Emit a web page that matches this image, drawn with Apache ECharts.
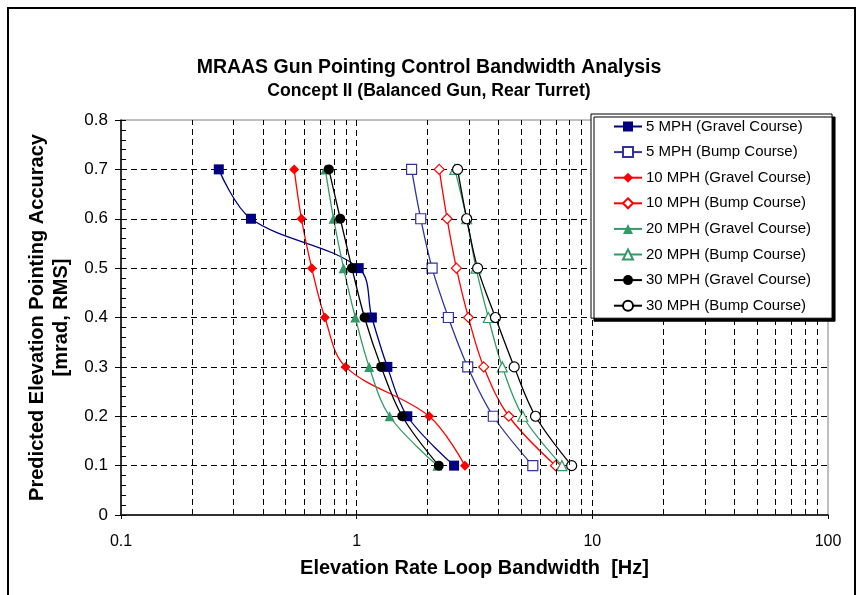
<!DOCTYPE html>
<html>
<head>
<meta charset="utf-8">
<script src="https://cdn.jsdelivr.net/npm/echarts@6/dist/echarts.min.js"></script>
<style>
  html, body { margin: 0; padding: 0; background: #fff; }
  #chart { width: 858px; height: 595px; }
</style>
</head>
<body>
<div id="chart"></div>
<script>
// Pointing accuracy levels (mrad RMS) shared by every curve
const accuracy = [0.7, 0.6, 0.5, 0.4, 0.3, 0.2, 0.1];

// Required elevation rate loop bandwidth (Hz) at each accuracy level
const bw5Gravel  = [0.26, 0.356, 1.02, 1.16, 1.35, 1.64, 2.59];
const bw5Bump    = [1.71, 1.87, 2.09, 2.45, 2.96, 3.80, 5.59];
const bw10Gravel = [0.543, 0.583, 0.645, 0.733, 0.898, 2.03, 2.88];
const bw10Bump   = [2.24, 2.42, 2.65, 2.98, 3.46, 4.42, 6.98];
const bw20Gravel = [0.736, 0.798, 0.88, 0.987, 1.13, 1.38, 2.20];
const bw20Bump   = [2.61, 2.93, 3.21, 3.62, 4.15, 5.07, 7.43];
const bw30Gravel = [0.762, 0.852, 0.955, 1.08, 1.27, 1.56, 2.23];
const bw30Bump   = [2.68, 2.93, 3.26, 3.88, 4.66, 5.74, 8.17];

const seriesNames = [
  '5 MPH (Gravel Course)', '5 MPH (Bump Course)',
  '10 MPH (Gravel Course)', '10 MPH (Bump Course)',
  '20 MPH (Gravel Course)', '20 MPH (Bump Course)',
  '30 MPH (Gravel Course)', '30 MPH (Bump Course)'
];

// Log-axis minor grid positions (2..9 within each decade)
const minorGrid = [0.2, 0.3, 0.4, 0.5, 0.6, 0.7, 0.8, 0.9,
                   2, 3, 4, 5, 6, 7, 8, 9,
                   20, 30, 40, 50, 60, 70, 80, 90];

const FONT = 'Liberation Sans, Arial, sans-serif';

function pairs(xs) { return xs.map((x, i) => [x, accuracy[i]]); }

function curve(name, xs, color, symbol, size, filled) {
  return {
    name: name,
    type: 'line',
    data: pairs(xs),
    smooth: 0.35,
    symbol: symbol,
    symbolSize: size,
    lineStyle: { color: color, width: 1.3 },
    itemStyle: filled
      ? { color: color, borderColor: color, borderWidth: 0 }
      : { color: '#ffffff', borderColor: color, borderWidth: 1.2 },
    emphasis: { disabled: true },
    z: 3
  };
}

const series = [
  curve(seriesNames[0], bw5Gravel, '#000080', 'rect', 10, true),
  curve(seriesNames[1], bw5Bump, '#333399', 'rect', 10, false),
  curve(seriesNames[2], bw10Gravel, '#ff0000', 'diamond', 10, true),
  curve(seriesNames[3], bw10Bump, '#ff0000', 'diamond', 10, false),
  curve(seriesNames[4], bw20Gravel, '#339966', 'triangle', 10, true),
  curve(seriesNames[5], bw20Bump, '#339966', 'triangle', 10, false),
  curve(seriesNames[6], bw30Gravel, '#000000', 'circle', 10, true),
  curve(seriesNames[7], bw30Bump, '#000000', 'circle', 10, false)
];

// Minor vertical grid drawn as dashed mark lines on the log axis
series.push({
  name: 'minor-grid',
  type: 'line',
  data: [],
  silent: true,
  z: 1,
  markLine: {
    silent: true,
    symbol: 'none',
    label: { show: false },
    animation: false,
    lineStyle: { color: '#000', width: 1, type: [6, 4] },
    data: minorGrid.map(v => ({ xAxis: v }))
  }
});

const dashed = { color: '#000', width: 1, type: [6, 4] };

const chart = echarts.init(document.getElementById('chart'), null, { renderer: 'canvas' });
chart.setOption({
  animation: false,
  backgroundColor: '#ffffff',
  textStyle: { fontFamily: FONT },
  title: {
    text: 'MRAAS Gun Pointing Control Bandwidth Analysis',
    subtext: 'Concept II (Balanced Gun, Rear Turret)',
    left: 'center',
    top: 58,
    padding: 0,
    itemGap: 4,
    textStyle: { fontFamily: FONT, fontSize: 19.5, fontWeight: 'bold', color: '#000' },
    subtextStyle: { fontFamily: FONT, fontSize: 17.6, fontWeight: 'bold', color: '#000' }
  },
  grid: {
    left: 121, right: 30, top: 120, bottom: 80,
    show: true, borderColor: '#808080', borderWidth: 1, backgroundColor: 'transparent'
  },
  legend: {
    data: seriesNames,
    orient: 'vertical',
    left: 591,
    top: 114,
    z: 50,
    padding: [5, 21, 5, 22],
    itemGap: 10.6,
    itemWidth: 28,
    itemHeight: 12.5,
    backgroundColor: '#ffffff',
    borderColor: '#000',
    borderWidth: 1,
    borderRadius: 0,
    shadowColor: '#000',
    shadowOffsetX: 3,
    shadowOffsetY: 3,
    shadowBlur: 0,
    selectedMode: false,
    textStyle: { fontFamily: FONT, fontSize: 15, color: '#000', lineHeight: 14, padding: [0, 0, 0, -1] }
  },
  xAxis: {
    type: 'log',
    logBase: 10,
    min: 0.1,
    max: 100,
    name: 'Elevation Rate Loop Bandwidth  [Hz]',
    nameLocation: 'middle',
    nameGap: 43,
    nameTextStyle: { fontFamily: FONT, fontSize: 20, fontWeight: 'bold', color: '#000' },
    axisLine: { show: true, lineStyle: { color: '#000', width: 1.5 } },
    axisTick: { show: true, length: 4, lineStyle: { color: '#000' } },
    axisLabel: { fontFamily: FONT, fontSize: 16, color: '#000', margin: 19, formatter: v => String(v) },
    splitLine: { show: true, lineStyle: dashed, showMinLine: false, showMaxLine: false }
  },
  yAxis: [{
    type: 'value',
    min: 0,
    max: 0.8,
    interval: 0.1,
    position: 'left',
    name: 'Predicted Elevation Pointing Accuracy\n[mrad, RMS]',
    nameLocation: 'middle',
    nameRotate: 90,
    nameGap: 47,
    nameTextStyle: { fontFamily: FONT, fontSize: 20, fontWeight: 'bold', color: '#000', lineHeight: 24, align: 'center' },
    axisLine: { show: true, lineStyle: { color: '#000', width: 1.5 } },
    axisTick: { show: true, inside: true, length: 5, lineStyle: { color: '#000' } },
    minorTick: { show: true, splitNumber: 5, length: 5, lineStyle: { color: '#000' } },
    axisLabel: { fontFamily: FONT, fontSize: 17, color: '#000', margin: 13, formatter: v => String(+v.toFixed(1)) },
    splitLine: { show: true, lineStyle: dashed, showMinLine: false, showMaxLine: false }
  }, {
    type: 'value',
    min: 0,
    max: 0.8,
    interval: 0.1,
    position: 'left',
    axisLine: { show: false },
    axisTick: { show: true, inside: false, length: 6, lineStyle: { color: '#000' } },
    axisLabel: { show: false },
    splitLine: { show: false }
  }],
  graphic: [{
    type: 'rect',
    silent: true,
    z: 100,
    shape: { x: 8, y: 8, width: 847, height: 620 },
    style: { fill: 'none', stroke: '#000', lineWidth: 2 }
  }],
  series: series
});
</script>
</body>
</html>
